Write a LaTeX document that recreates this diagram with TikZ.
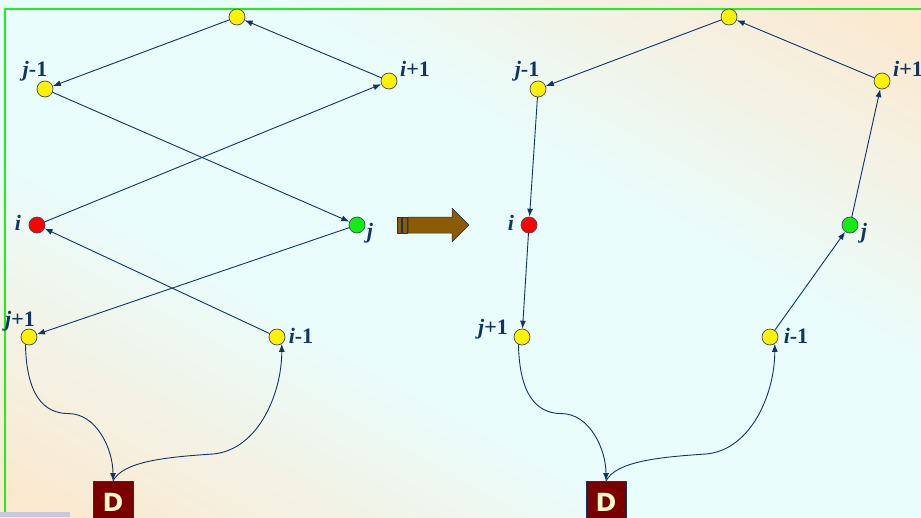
\documentclass[tikz,border=0pt]{standalone}
\usepackage{fontspec}
\setmainfont{Liberation Serif}
\setsansfont{DejaVu Sans}
\usetikzlibrary{arrows.meta}
\definecolor{ink}{RGB}{16,52,100}
\definecolor{rim}{RGB}{60,75,100}
\definecolor{peach}{RGB}{252,232,206}
\definecolor{aqua}{RGB}{233,253,253}
\definecolor{frame}{RGB}{30,240,30}
\definecolor{lavender}{RGB}{200,200,226}
\definecolor{boxred}{RGB}{122,0,0}
\definecolor{boxtext}{RGB}{255,250,200}
\definecolor{bronze}{RGB}{140,90,0}
\definecolor{hot}{RGB}{255,0,0}
\definecolor{leaf}{RGB}{20,235,20}
\pgfdeclareverticalshading{bgfade}{100bp}{color(0bp)=(peach); color(16bp)=(peach); color(40bp)=(aqua); color(60bp)=(aqua); color(84bp)=(peach); color(100bp)=(peach)}

\begin{document}
\begin{tikzpicture}[x=1pt, y=-1pt, line join=round, line cap=round, >={Latex[length=8pt,width=6pt]},
  vtx/.style={circle, draw=rim, line width=0.7pt, fill=yellow, minimum size=16pt, inner sep=0pt},
  lbl/.style={text=ink, inner sep=0pt, font=\fontsize{22}{22}\selectfont\bfseries},
  link/.style={->, draw=ink, line width=0.9pt},
  dbox/.style={fill=boxred, draw=ink, line width=0.6pt, minimum width=40pt, minimum height=42pt, inner sep=0pt, anchor=north, text=boxtext, font=\sffamily\bfseries\fontsize{25}{25}\selectfont}]
  \useasboundingbox (0,0) rectangle (921,517);
  % background: diagonal fade, stretched from a square
  \begin{scope}[transform canvas={xscale=9.21, yscale=5.17}]
    \shade[shading=bgfade, shading angle=-45] (0,0) rectangle (100,100);
  \end{scope}
  \draw[frame, line width=2pt, line cap=butt] (5,517) -- (5,9) -- (921,9);
  \fill[lavender] (0,512) rectangle (70,517);

  % before: the two crossed pairs
  \node[vtx] (lt) at (237,17) {};
  \node[vtx] (ljm) at (45,89) {};
  \node[vtx] (lip) at (389,81) {};
  \node[vtx, fill=hot] (li) at (37,225) {};
  \node[vtx, fill=leaf] (lj) at (357,225) {};
  \node[vtx] (ljp) at (29,337) {};
  \node[vtx] (lim) at (277,337) {};
  \node[lbl] (ljmt) at (35,71) {\textit{j}-1};
  \node[lbl] (lipt) at (415,69) {\textit{i}+1};
  \node[lbl] (lit) at (18,223) {\textit{i}};
  \node[lbl] (ljt) at (370,233) {\textit{j}};
  \node[lbl] (ljpt) at (20,321) {\textit{j}+1};
  \node[lbl] (limt) at (301,336) {\textit{i}-1};

  % after: the path between i and j reversed
  \node[vtx] (rt) at (729,17) {};
  \node[vtx] (rjm) at (538,89) {};
  \node[vtx] (rip) at (882,81) {};
  \node[vtx, fill=hot] (ri) at (529,225) {};
  \node[vtx, fill=leaf] (rj) at (850,225) {};
  \node[vtx] (rjp) at (522,337) {};
  \node[vtx] (rim) at (770,337) {};
  \node[lbl] (rjmt) at (527,71) {\textit{j}-1};
  \node[lbl] (ript) at (908,69) {\textit{i}+1};
  \node[lbl] (rit) at (511,223) {\textit{i}};
  \node[lbl] (rjt) at (864,233) {\textit{j}};
  \node[lbl] (rjpt) at (493,329) {\textit{j}+1};
  \node[lbl] (rimt) at (796,336) {\textit{i}-1};

  \draw[link] (lt) -- (ljm);
  \draw[link] (lip) -- (lt);
  \draw[link] (ljm) -- (lj);
  \draw[link] (li) -- (lip);
  \draw[link] (lj) -- (ljp);
  \draw[link] (lim) -- (li);

  \draw[link] (rt) -- (rjm);
  \draw[link] (rip) -- (rt);
  \draw[link] (rjm) -- (ri);
  \draw[link] (ri) -- (rjp);
  \draw[link] (rim) -- (rj);
  \draw[link] (rj) -- (rip);

  % the detour through D, same on both sides
  \foreach \s/\d in {l/113, r/606}{
    \node[dbox] (\s D) at (\d,481) {D};
    \draw[link] (\s jp.-115) .. controls +(1,50) and +(-25,0) .. ++(43,69)
      .. controls +(28,0) and +(0,-32) .. (\s D.north);
    \draw[link] (\s D.north) .. controls +(10,-20) and +(-45,3) .. ++(100,-27)
      .. controls +(45,-4) and +(0,50) .. (\s im.-55);
  }

  % transition arrow
  \filldraw[bronze, draw=ink, line width=0.5pt] (397,217) rectangle (401,233);
  \filldraw[bronze, draw=ink, line width=0.5pt] (402,217) rectangle (407,233);
  \filldraw[bronze, draw=ink, line width=0.5pt] (408,217) -- (452,217) -- (452,208) -- (469,225)
    -- (452,242) -- (452,233) -- (408,233) -- cycle;
\end{tikzpicture}
\end{document}
